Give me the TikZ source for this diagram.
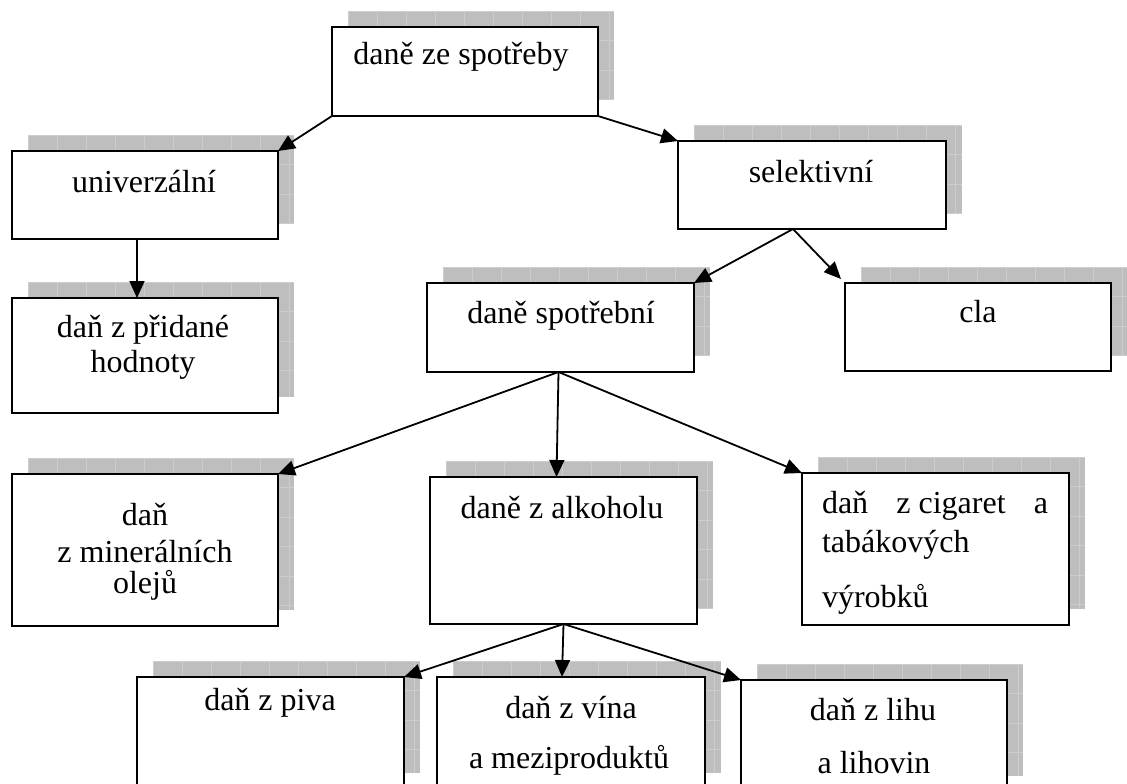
\documentclass[tikz,border=0pt]{standalone}
\usepackage{fontspec}
\setmainfont{Liberation Serif}
\usetikzlibrary{arrows.meta,calc}

\definecolor{shadowgray}{RGB}{190,190,190}
\definecolor{gridgray}{RGB}{205,205,205}

\tikzset{
  box/.style={draw=black, line width=2.2pt, fill=white, rectangle,
              inner sep=0pt, outer sep=0pt},
  lbl/.style={anchor=base, inner sep=0pt, outer sep=0pt,
              font=\fontsize{32}{38}\selectfont},
  arr/.style={line width=1.8pt, -{Triangle[length=17pt,width=15pt]}},
  gridline/.style={draw=gridgray, line width=0.8pt},
}

% \taxbox{name}{left}{top}{right}{bottom}: a framed box with a gridded
% grey shadow shifted up and to the right
\newcommand\taxbox[5]{%
  \begin{scope}
    \clip (#2+16,#3-16) rectangle (#4+16,#5-16);
    \fill[shadowgray] (#2+16,#3-16) rectangle (#4+16,#5-16);
    \foreach \gx in {0,29,...,300}
      \draw[gridline] (#2+16+\gx,#3-16) -- (#2+16+\gx,#5-16);
    \foreach \gy in {0,29.5,...,200}
      \draw[gridline] (#2+16,#3-16+\gy) -- (#4+16,#3-16+\gy);
  \end{scope}
  \node[box, minimum width=#4-#2, minimum height=#5-#3]
    (#1) at ({(#2+#4)/2},{(#3+#5)/2}) {};
}

\begin{document}
\begin{tikzpicture}[x=1pt,y=-1pt]
  \useasboundingbox (0,0) rectangle (1127,784);
  \fill[white] (0,0) rectangle (1127,784);
  \clip (0,0) rectangle (1127,784);

  % boxes
  \taxbox{spot}{332}{27}{598}{116}
  \taxbox{univ}{12}{151}{278}{239}
  \taxbox{vat}{12}{298}{278}{413}
  \taxbox{sel}{678}{141}{946}{229}
  \taxbox{excise}{427}{283}{694}{372}
  \taxbox{cla}{845}{283}{1111}{371}
  \taxbox{oil}{12}{474}{278}{626}
  \taxbox{alk}{430}{477}{697}{624}
  \taxbox{cig}{802}{473}{1069}{625}
  \taxbox{beer}{137}{677}{404}{789}
  \taxbox{wine}{437}{677}{705}{789}
  \taxbox{spirit}{741}{680}{1007}{792}

  % labels
  \node[lbl] (tspot) at (461,65) {daně ze spotřeby};
  \node[lbl] (tuniv) at (144,192) {univerzální};
  \node[lbl] (tvat1) at (143,337) {daň z přidané};
  \node[lbl] (tvat2) at (143,372) {hodnoty};
  \node[lbl] (tsel) at (811,182) {selektivní};
  \node[lbl] (texc) at (561,323) {daně spotřební};
  \node[lbl] (tcla) at (978,322) {cla};
  \node[lbl] (toil1) at (145,525) {daň};
  \node[lbl] (toil2) at (145,562) {z minerálních};
  \node[lbl] (toil3) at (145,593) {olejů};
  \node[lbl] (talk) at (562,518) {daně z alkoholu};
  \node[lbl, anchor=base west] (tcig1) at (822,513)
    {\hbox to 226pt{daň\hfill z cigaret\hfill a}};
  \node[lbl, anchor=base west] (tcig2) at (822,552) {tabákových};
  \node[lbl, anchor=base west] (tcig3) at (822,607) {výrobků};
  \node[lbl] (tbeer) at (270,710) {daň z piva};
  \node[lbl] (twine1) at (571,718) {daň z vína};
  \node[lbl] (twine2) at (569,768) {a meziproduktů};
  \node[lbl] (tspir1) at (873,720) {daň z lihu};
  \node[lbl] (tspir2) at (874,773) {a lihovin};

  % connectors
  \draw[arr] (spot.south west) -- (univ.north east);
  \draw[arr] (spot.south east) -- (sel.north west);
  \draw[arr] ([xshift=-8pt]univ.south) -- ([xshift=-8pt]vat.north);
  \coordinate (selfoot) at ([xshift=-19pt]sel.south);
  \draw[arr] (selfoot) -- (excise.north east);
  \draw[arr] (selfoot) -- ([xshift=-4pt,yshift=4pt]cla.north west);
  \coordinate (excfoot) at ([xshift=-2pt]excise.south);
  \draw[arr] (excfoot) -- (oil.north east);
  \draw[arr] (excfoot) -- ([xshift=-7pt]alk.north);
  \draw[arr] (excfoot) -- (cig.north west);
  \draw[arr] (alk.south) -- (beer.north east);
  \draw[arr] (alk.south) -- ([xshift=-9pt]wine.north);
  \draw[arr] (alk.south) -- (spirit.north west);
\end{tikzpicture}
\end{document}
